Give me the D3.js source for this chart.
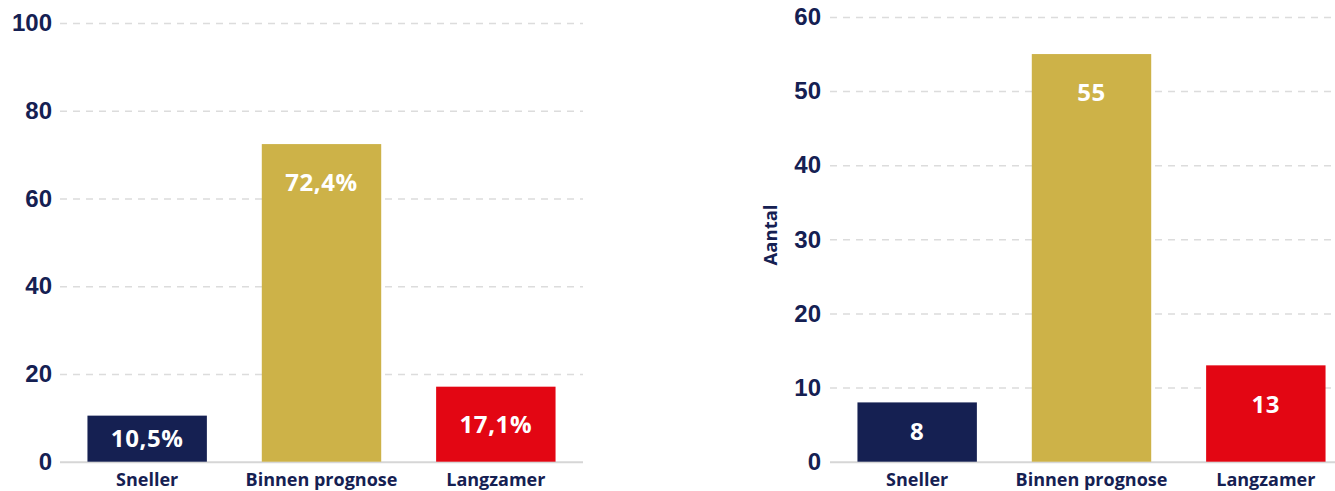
<!DOCTYPE html>
<html>
<head>
<meta charset="utf-8">
<script src="https://cdn.jsdelivr.net/npm/d3@7"></script>
<style>
  html, body { margin: 0; padding: 0; background: #ffffff; }
  svg { display: block; font-family: "Open Sans", "Noto Sans", sans-serif; }
</style>
</head>
<body>
<svg id="chart" width="1335" height="491"></svg>
<script>
// ---- data ----
const categories = ["Sneller", "Binnen prognose", "Langzamer"];
const percentValues = [10.5, 72.4, 17.1];
const percentLabels = ["10,5%", "72,4%", "17,1%"];
const percentTicks = [0, 20, 40, 60, 80, 100];
const countValues = [8, 55, 13];
const countLabels = ["8", "55", "13"];
const countTicks = [0, 10, 20, 30, 40, 50, 60];
const barColors = ["#152052", "#CDB248", "#E30613"];
const countAxisTitle = "Aantal";

// ---- style ----
const NAVY = "#152052";
const GRID = "#dcdcdc";
const BASE = "#d6d6d6";

const svg = d3.select("#chart");

function drawChart(cfg) {
  const g = svg.append("g");
  const x = d3.scaleBand()
    .domain(categories)
    .range([cfg.x0, cfg.x1])
    .paddingInner(0.315)
    .paddingOuter(0.1575);
  const y = d3.scaleLinear()
    .domain(cfg.domain)
    .range([cfg.yBottom, cfg.yTop]);

  // gridlines + tick labels
  const axis = d3.axisLeft(y)
    .tickValues(cfg.ticks)
    .tickSize(-(cfg.x1 - cfg.x0))
    .tickPadding(cfg.tickPad)
    .tickFormat(d3.format("d"));
  const ag = g.append("g")
    .attr("transform", `translate(${cfg.x0},0)`)
    .call(axis);
  ag.select(".domain").remove();
  ag.selectAll(".tick line")
    .attr("stroke", d => d === 0 ? BASE : GRID)
    .attr("stroke-width", d => d === 0 ? 2 : 1.5)
    .attr("stroke-dasharray", d => d === 0 ? null : "7,6");
  ag.selectAll(".tick text")
    .attr("fill", NAVY)
    .style("font-size", "24px")
    .style("font-weight", "700");

  // bars
  g.selectAll("rect.bar")
    .data(cfg.values)
    .enter().append("rect")
    .attr("class", "bar")
    .attr("x", (d, i) => x(categories[i]))
    .attr("width", x.bandwidth())
    .attr("y", d => y(d))
    .attr("height", d => y(0) - y(d))
    .attr("fill", (d, i) => barColors[i]);

  // bar value labels
  g.selectAll("text.val")
    .data(cfg.values)
    .enter().append("text")
    .attr("class", "val")
    .attr("x", (d, i) => x(categories[i]) + x.bandwidth() / 2)
    .attr("y", d => Math.min(y(d) + 39, (y(d) + y(0)) / 2))
    .attr("dy", "0.35em")
    .attr("text-anchor", "middle")
    .attr("fill", "#ffffff")
    .style("font-size", "24px")
    .style("font-weight", "700")
    .style("letter-spacing", "0.6px")
    .text((d, i) => cfg.labels[i]);

  // category labels
  g.selectAll("text.cat")
    .data(categories)
    .enter().append("text")
    .attr("class", "cat")
    .attr("x", d => x(d) + x.bandwidth() / 2)
    .attr("y", cfg.yBottom + 24.5)
    .attr("text-anchor", "middle")
    .attr("fill", NAVY)
    .style("font-size", "18px")
    .style("font-weight", "700")
    .text(d => d);

  if (cfg.title) {
    g.append("text")
      .attr("transform", `translate(${cfg.titleX},${cfg.titleY}) rotate(-90)`)
      .attr("text-anchor", "middle")
      .attr("dy", "0.35em")
      .attr("fill", NAVY)
      .style("font-size", "18.5px")
      .style("font-weight", "700")
      .text(cfg.title);
  }
}

drawChart({
  x0: 60, x1: 583, yBottom: 461.7, yTop: 23,
  domain: [0, 100], ticks: percentTicks, tickPad: 8,
  values: percentValues, labels: percentLabels
});

drawChart({
  x0: 830, x1: 1353, yBottom: 461.7, yTop: 17,
  domain: [0, 60], ticks: countTicks, tickPad: 9,
  values: countValues, labels: countLabels,
  title: countAxisTitle, titleX: 771, titleY: 235
});
</script>
</body>
</html>
